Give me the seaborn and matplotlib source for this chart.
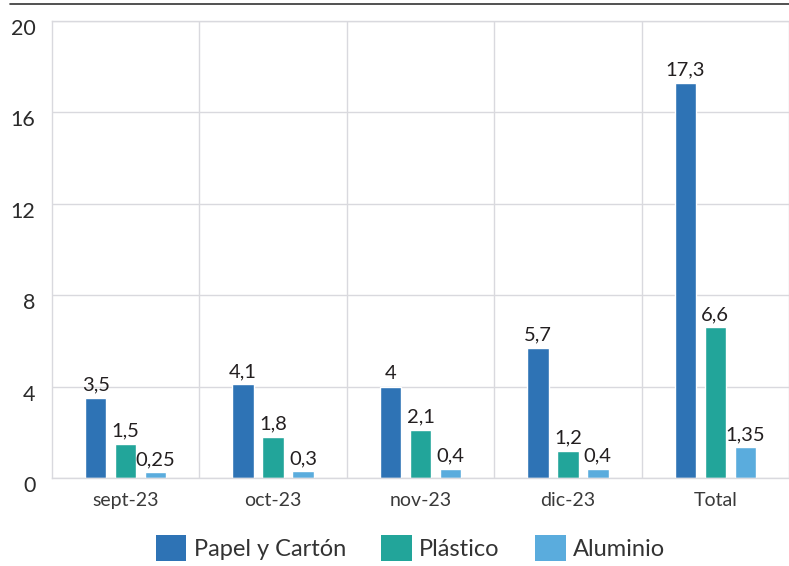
import matplotlib
matplotlib.use("Agg")
import matplotlib.pyplot as plt
import matplotlib.transforms as mtransforms
from matplotlib.lines import Line2D
from matplotlib.patches import Patch
import seaborn as sns
import pandas as pd

categories = ["sept-23", "oct-23", "nov-23", "dic-23", "Total"]
series_names = ["Papel y Cartón", "Plástico", "Aluminio"]
papel = [3.5, 4.1, 4, 5.7, 17.3]
plastico = [1.5, 1.8, 2.1, 1.2, 6.6]
aluminio = [0.25, 0.3, 0.4, 0.4, 1.35]
y_ticks = [0, 4, 8, 12, 16, 20]
colors = ["#2e73b5", "#22a59a", "#5aacdd"]

rows = []
for name, vals in zip(series_names, [papel, plastico, aluminio]):
    for cat, v in zip(categories, vals):
        rows.append({"mes": cat, "serie": name, "valor": v})
df = pd.DataFrame(rows)

sns.set_theme(style="white")
plt.rcParams["font.family"] = ["Lato", "DejaVu Sans"]

fig = plt.figure(figsize=(7.89, 5.66), dpi=100)
ax = fig.add_axes([52 / 789, 1 - 478 / 566, 1 - 52 / 789, (478 - 21) / 566])

sns.barplot(data=df, x="mes", y="valor", hue="serie", order=categories,
            hue_order=series_names, palette=colors, width=0.61, gap=0.29,
            saturation=1, ax=ax, legend=False)

ax.set_xlim(-0.5, len(categories) - 0.5)
ax.set_ylim(0, 20)
ax.set_yticks(y_ticks)
ax.set_yticklabels([str(t) for t in y_ticks])
ax.set_xlabel("")
ax.set_ylabel("")

# grid: horizontal at y ticks, vertical at category boundaries
ax.set_xticks([i + 0.5 for i in range(len(categories))], minor=True)
ax.grid(axis="y", which="major", color="#d9d9de", linewidth=1)
ax.grid(axis="x", which="minor", color="#d9d9de", linewidth=1)
ax.set_axisbelow(True)
for side in ["left", "top", "bottom"]:
    ax.spines[side].set_color("#d9d9de")
    ax.spines[side].set_linewidth(1)
ax.spines["right"].set_visible(False)
ax.tick_params(axis="both", which="both", length=0)
ax.tick_params(axis="y", labelsize=15.5, colors="#2b2b2b", pad=12)
ax.tick_params(axis="x", labelsize=14, colors="#3a3a3a", pad=10)

# y labels sit slightly below their gridlines
shift = mtransforms.ScaledTranslation(0, -6 / 100, fig.dpi_scale_trans)
for lbl in ax.get_yticklabels():
    lbl.set_transform(lbl.get_transform() + shift)

def fmt(v):
    return f"{v:g}".replace(".", ",")

for container, vals in zip(ax.containers, [papel, plastico, aluminio]):
    ax.bar_label(container, labels=[fmt(v) for v in vals], padding=3,
                 fontsize=14.5, color="#231f20")

# top rule
fig.add_artist(Line2D([10 / 789, 1], [1 - 4 / 566, 1 - 4 / 566],
                      color="#333333", linewidth=1.2, transform=fig.transFigure))

handles = [Patch(facecolor=c, edgecolor="none") for c in colors]
fig.legend(handles, series_names, loc="center", bbox_to_anchor=(0.52, 1 - 548 / 566),
           ncol=3, frameon=False, fontsize=17, handlelength=1.3, handleheight=1.3,
           handletextpad=0.3, columnspacing=1.5, labelcolor="#333333")

fig.savefig("out.png", dpi=100)
